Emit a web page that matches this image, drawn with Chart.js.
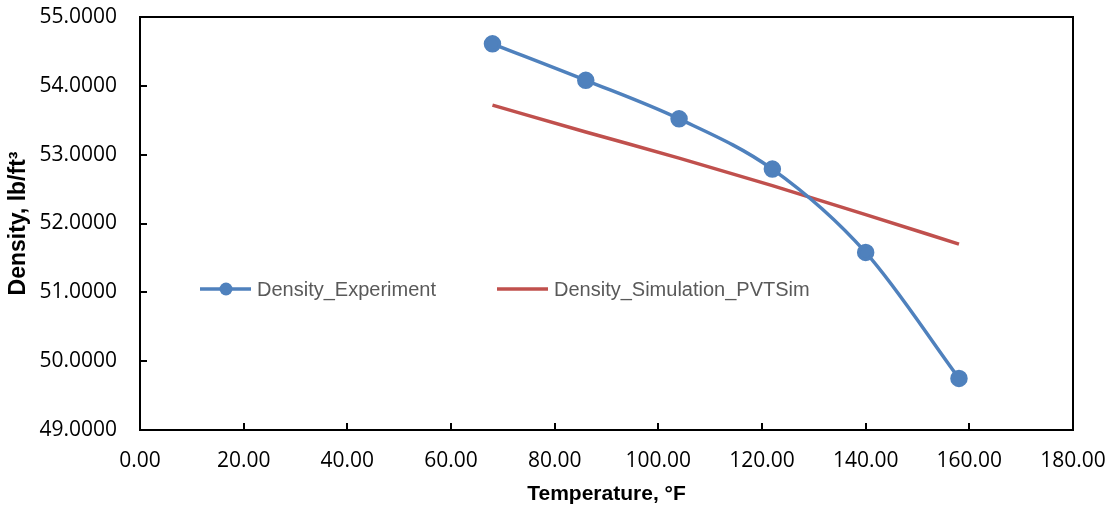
<!DOCTYPE html>
<html>
<head>
<meta charset="utf-8">
<script src="https://cdn.jsdelivr.net/npm/chart.js@4"></script>
<style>
  html, body { margin: 0; padding: 0; background: #fff; }
  #wrap { width: 1119px; height: 512px; }
</style>
</head>
<body>
<div id="wrap"><canvas id="densityChart" width="1119" height="512"></canvas></div>
<script>
// data
const temps = [68, 86, 104, 122, 140, 158];
const densityExperiment = [54.61, 54.08, 53.52, 52.79, 51.58, 49.75];
const densitySimulation = [53.72, 53.33, 52.95, 52.55, 52.13, 51.70];
const xTicks = [0, 20, 40, 60, 80, 100, 120, 140, 160, 180];
const yTicks = [49, 50, 51, 52, 53, 54, 55];

const blue = "#4F81BD";
const red = "#C0504D";

const toPoints = (xs, ys) => xs.map((x, i) => ({ x: x, y: ys[i] }));

// box round the plot area with small inner ticks, like Excel
const frame = {
  id: "frame",
  beforeDatasetsDraw(chart) {
    const { ctx, chartArea: a, scales } = chart;
    ctx.save();
    ctx.strokeStyle = "#000";
    ctx.lineWidth = 2;
    ctx.strokeRect(a.left, a.top, a.right - a.left, a.bottom - a.top);
    ctx.beginPath();
    xTicks.forEach((v) => {
      const px = Math.round(scales.x.getPixelForValue(v));
      ctx.moveTo(px, a.bottom);
      ctx.lineTo(px, a.bottom - 7);
    });
    yTicks.forEach((v) => {
      const py = Math.round(scales.y.getPixelForValue(v));
      ctx.moveTo(a.left, py);
      ctx.lineTo(a.left + 7, py);
    });
    ctx.stroke();
    ctx.restore();
  },
};

// legend sits inside the plot
const innerLegend = {
  id: "innerLegend",
  afterDraw(chart) {
    const ctx = chart.ctx;
    const y = 289;
    const items = [
      { x: 200, ds: chart.data.datasets[0], dot: true },
      { x: 497, ds: chart.data.datasets[1], dot: false },
    ];
    ctx.save();
    items.forEach((it) => {
      ctx.strokeStyle = it.ds.borderColor;
      ctx.lineWidth = 3.5;
      ctx.beginPath();
      ctx.moveTo(it.x, y);
      ctx.lineTo(it.x + 51, y);
      ctx.stroke();
      if (it.dot) {
        ctx.fillStyle = it.ds.borderColor;
        ctx.beginPath();
        ctx.arc(it.x + 26, y, 6.5, 0, Math.PI * 2);
        ctx.fill();
      }
      ctx.fillStyle = "#595959";
      ctx.font = "20px 'Liberation Sans', Arial, sans-serif";
      ctx.textBaseline = "middle";
      ctx.fillText(it.ds.label, it.x + 57, y + 1);
    });
    ctx.restore();
  },
};

// keep the plot box where the reference has it
const noScalePad = (s) => {
  s.paddingTop = 0;
  s.paddingBottom = 0;
  s.paddingLeft = 0;
  s.paddingRight = 0;
};

const ctx = document.getElementById("densityChart").getContext("2d");
new Chart(ctx, {
  type: "scatter",
  data: {
    datasets: [
      {
        label: "Density_Experiment",
        data: toPoints(temps, densityExperiment),
        showLine: true,
        borderColor: blue,
        backgroundColor: blue,
        borderWidth: 3.5,
        pointRadius: 7,
        pointHoverRadius: 7,
        cubicInterpolationMode: "monotone",
      },
      {
        label: "Density_Simulation_PVTSim",
        data: toPoints(temps, densitySimulation),
        showLine: true,
        borderColor: red,
        backgroundColor: red,
        borderWidth: 3.5,
        pointRadius: 0,
        cubicInterpolationMode: "monotone",
      },
    ],
  },
  options: {
    responsive: false,
    animation: false,
    layout: { padding: { top: 17, right: 46, left: 0, bottom: 0 } },
    plugins: { legend: { display: false }, tooltip: { enabled: false } },
    scales: {
      x: {
        type: "linear",
        min: 0,
        max: 180,
        afterBuildTicks: (s) => { s.ticks = xTicks.map((v) => ({ value: v })); },
        afterFit: (s) => { s.height = 82; noScalePad(s); },
        grid: { display: false, drawTicks: false },
        border: { display: false },
        ticks: {
          padding: 18,
          color: "#000",
          font: { family: "'Open Sans', sans-serif", size: 21 },
          callback: (v) => Number(v).toFixed(2),
        },
        title: {
          display: true,
          text: "Temperature, °F",
          color: "#000",
          padding: 5,
          font: { family: "'Liberation Sans', Arial, sans-serif", size: 21, weight: "bold" },
        },
      },
      y: {
        type: "linear",
        min: 49,
        max: 55,
        afterBuildTicks: (s) => { s.ticks = yTicks.map((v) => ({ value: v })); },
        afterFit: (s) => { s.width = 140; noScalePad(s); },
        grid: { display: false, drawTicks: false },
        border: { display: false },
        ticks: {
          padding: 23,
          color: "#000",
          font: { family: "'Open Sans', sans-serif", size: 21 },
          callback: (v) => Number(v).toFixed(4),
        },
        title: {
          display: true,
          text: "Density, lb/ft³",
          color: "#000",
          padding: 5,
          font: { family: "'Liberation Sans', Arial, sans-serif", size: 23, weight: "bold" },
        },
      },
    },
  },
  plugins: [frame, innerLegend],
});
</script>
</body>
</html>
